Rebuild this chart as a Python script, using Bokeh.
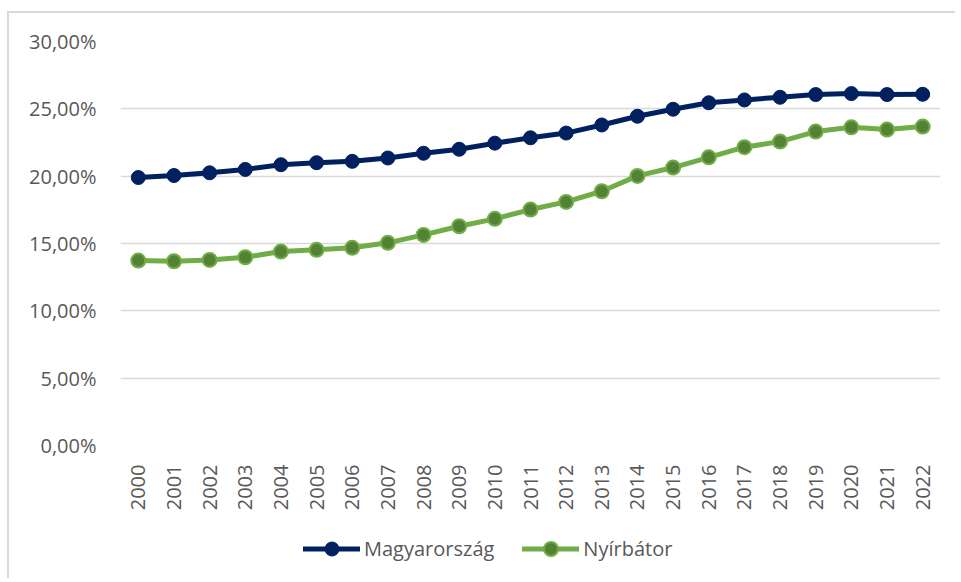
from bokeh.plotting import figure
from bokeh.layouts import column
from bokeh.models import (ColumnDataSource, FixedTicker, CustomJSTickFormatter,
                          Legend, LegendItem, Range1d)
from bokeh.embed import file_html
from bokeh.resources import INLINE
import math

years = list(range(2000, 2023))

magyarorszag = [19.90, 20.05, 20.25, 20.50, 20.85, 21.00, 21.10, 21.35, 21.70, 22.00,
                22.45, 22.85, 23.20, 23.80, 24.45, 24.97, 25.45, 25.66, 25.86, 26.06,
                26.13, 26.06, 26.08]
nyirbator = [13.73, 13.68, 13.78, 13.98, 14.40, 14.53, 14.68, 15.05, 15.64, 16.28,
             16.83, 17.52, 18.09, 18.88, 20.02, 20.64, 21.40, 22.15, 22.57, 23.31,
             23.63, 23.46, 23.68]
y_ticks = [0, 5, 10, 15, 20, 25, 30]
series_names = ["Magyarország", "Nyírbátor"]

NAVY = "#002060"
GREEN_LINE = "#70AD47"
GREEN_FILL = "#548235"
TEXT = "#595959"
GRID = "#d9d9d9"
FONT = "Open Sans"
FS = "20px"

src = ColumnDataSource(dict(x=years, m=magyarorszag, n=nyirbator))


def add_series(fig):
    l1 = fig.line("x", "m", source=src, line_color=NAVY, line_width=5, line_cap="round")
    c1 = fig.scatter("x", "m", source=src, size=14, fill_color=NAVY, line_color=NAVY)
    l2 = fig.line("x", "n", source=src, line_color=GREEN_LINE, line_width=5,
                  line_cap="round")
    c2 = fig.scatter("x", "n", source=src, size=14, fill_color=GREEN_FILL,
                     line_color=GREEN_LINE, line_width=2)
    return (l1, c1), (l2, c2)


p = figure(width=946, height=507, output_backend="svg", toolbar_location=None,
           x_range=Range1d(1999.5, 2022.5), y_range=Range1d(0, 30),
           min_border_left=111, min_border_right=15, min_border_top=28,
           min_border_bottom=75)
p.outline_line_color = None
p.background_fill_color = "white"
p.border_fill_color = "white"

p.xgrid.grid_line_color = None
p.ygrid.grid_line_color = GRID
p.ygrid.grid_line_width = 1.5
p.ygrid.ticker = FixedTicker(ticks=y_ticks)

p.yaxis.ticker = FixedTicker(ticks=y_ticks)
p.yaxis.formatter = CustomJSTickFormatter(
    code="return tick.toFixed(2).replace('.', ',') + '%';")
p.xaxis.ticker = FixedTicker(ticks=years)
p.xaxis.formatter = CustomJSTickFormatter(code="return String(Math.round(tick));")
p.xaxis.major_label_orientation = math.pi / 2

for ax in (p.xaxis, p.yaxis):
    ax.axis_line_color = None
    ax.major_tick_line_color = None
    ax.minor_tick_line_color = None
    ax.major_label_text_font = FONT
    ax.major_label_text_font_size = FS
    ax.major_label_text_color = TEXT
p.yaxis.major_label_standoff = 18
p.xaxis.major_label_standoff = 13

add_series(p)

# legend strip (separate figure so the legend is not clipped by the frame);
# its ranges exclude the data, so only the legend shows
lg = figure(width=946, height=58, output_backend="svg", toolbar_location=None,
            x_range=Range1d(0, 1), y_range=Range1d(0, 1),
            min_border_left=0, min_border_right=0, min_border_top=0,
            min_border_bottom=0)
lg.axis.visible = False
lg.grid.visible = False
lg.outline_line_color = None
lg.background_fill_color = "white"
lg.border_fill_color = "white"
r1, r2 = add_series(lg)

legend = Legend(items=[LegendItem(label=series_names[0], renderers=list(r1)),
                       LegendItem(label=series_names[1], renderers=list(r2))],
                orientation="horizontal", location=(183, 12))
legend.glyph_width = 57
legend.glyph_height = 35
legend.label_text_font = FONT
legend.label_text_font_size = FS
legend.label_text_color = TEXT
legend.label_standoff = 4
legend.spacing = 28
legend.padding = 0
legend.margin = 0
legend.border_line_color = None
legend.background_fill_alpha = 0
lg.add_layout(legend, "center")

layout = column(p, lg, spacing=0)
layout.styles = {"margin-left": "7px", "margin-top": "11px",
                 "border-left": f"2px solid {GRID}", "border-top": f"2px solid {GRID}"}
open("out.html", "w").write(file_html(layout, INLINE))
